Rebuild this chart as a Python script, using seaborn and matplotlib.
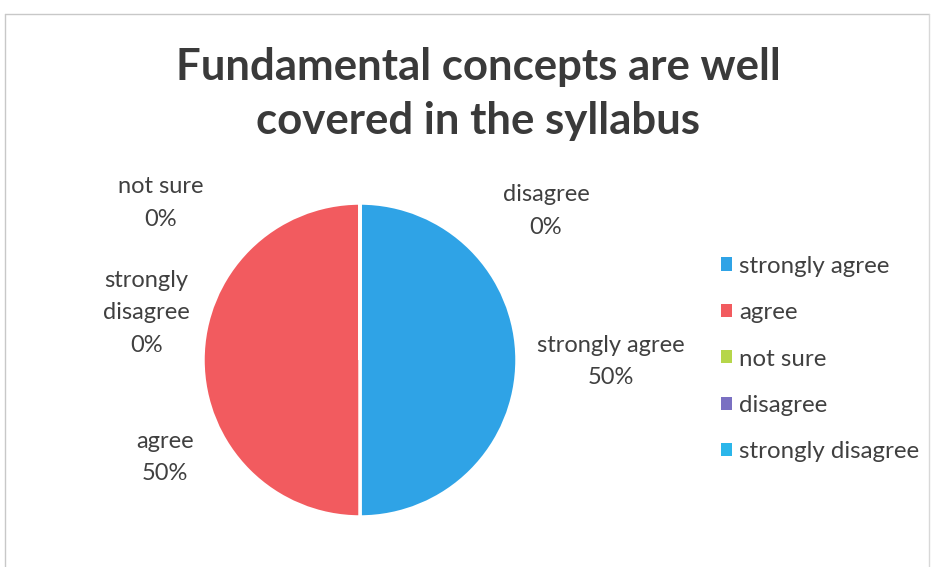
import matplotlib
matplotlib.use("Agg")
import matplotlib.pyplot as plt
import seaborn as sns
from matplotlib.patches import Patch
from matplotlib.lines import Line2D

categories = ["strongly agree", "agree", "not sure", "disagree", "strongly disagree"]
values = [50, 50, 0, 0, 0]
pct_labels = ["50%", "50%", "0%", "0%", "0%"]
title = "Fundamental concepts are well\ncovered in the syllabus"

colors = ["#2fa3e6", "#f25b5f", "#b6d64a", "#7a70c2", "#2bb6ea"]
label_text = {"strongly agree": "strongly agree", "agree": "agree", "not sure": "not sure",
              "disagree": "disagree", "strongly disagree": "strongly\ndisagree"}
# label anchor positions (pie radius units) - layout only
label_pos = {"strongly agree": (1.60, -0.01), "agree": (-1.24, -0.62), "not sure": (-1.27, 1.0),
             "disagree": (1.185, 0.95), "strongly disagree": (-1.36, 0.30)}

sns.set_theme(style="white")
plt.rcParams["font.family"] = ["Lato", "DejaVu Sans"]
txt = "#404040"

fig = plt.figure(figsize=(9.35, 5.67), dpi=100)
fig.patch.set_facecolor("white")

# outer chart frame
fig.add_artist(Line2D([5/935, 5/935], [0, 1 - 14/567], transform=fig.transFigure, color="#c8c8c8", lw=1))
fig.add_artist(Line2D([5/935, 929/935], [1 - 14/567, 1 - 14/567], transform=fig.transFigure, color="#c8c8c8", lw=1))
fig.add_artist(Line2D([929/935, 929/935], [0, 1 - 14/567], transform=fig.transFigure, color="#d8d8d8", lw=1))

cx, cy, r = 360, 360, 157
ax = fig.add_axes([(cx - r) / 935, (567 - cy - r) / 567, 2 * r / 935, 2 * r / 567])
wedges, _ = ax.pie(values, colors=colors, startangle=90, counterclock=False,
                   wedgeprops=dict(edgecolor="white", linewidth=2.5))
ax.set_xlim(-1, 1)
ax.set_ylim(-1, 1)
ax.set_aspect("equal")
ax.axis("off")

for cat, p in zip(categories, pct_labels):
    x, y = label_pos[cat]
    ax.text(x, y, f"{label_text[cat]}\n{p}", ha="center", va="center", fontsize=17,
            color=txt, linespacing=1.68, clip_on=False)

fig.text(478/935, 1 - 94/567, title, ha="center", va="center", fontsize=31.5,
         fontweight="bold", color="#3a3a3a", linespacing=1.42)

handles = [Patch(facecolor=c, edgecolor="none") for c in colors]
fig.legend(handles, categories, loc="center left", bbox_to_anchor=(721/935, 1 - 359/567),
           frameon=False, fontsize=17.3, labelcolor=txt, handlelength=0.46, handleheight=0.46,
           handletextpad=0.3, labelspacing=1.06, borderpad=0, borderaxespad=0)

fig.savefig("out.png", dpi=100, facecolor="white")
